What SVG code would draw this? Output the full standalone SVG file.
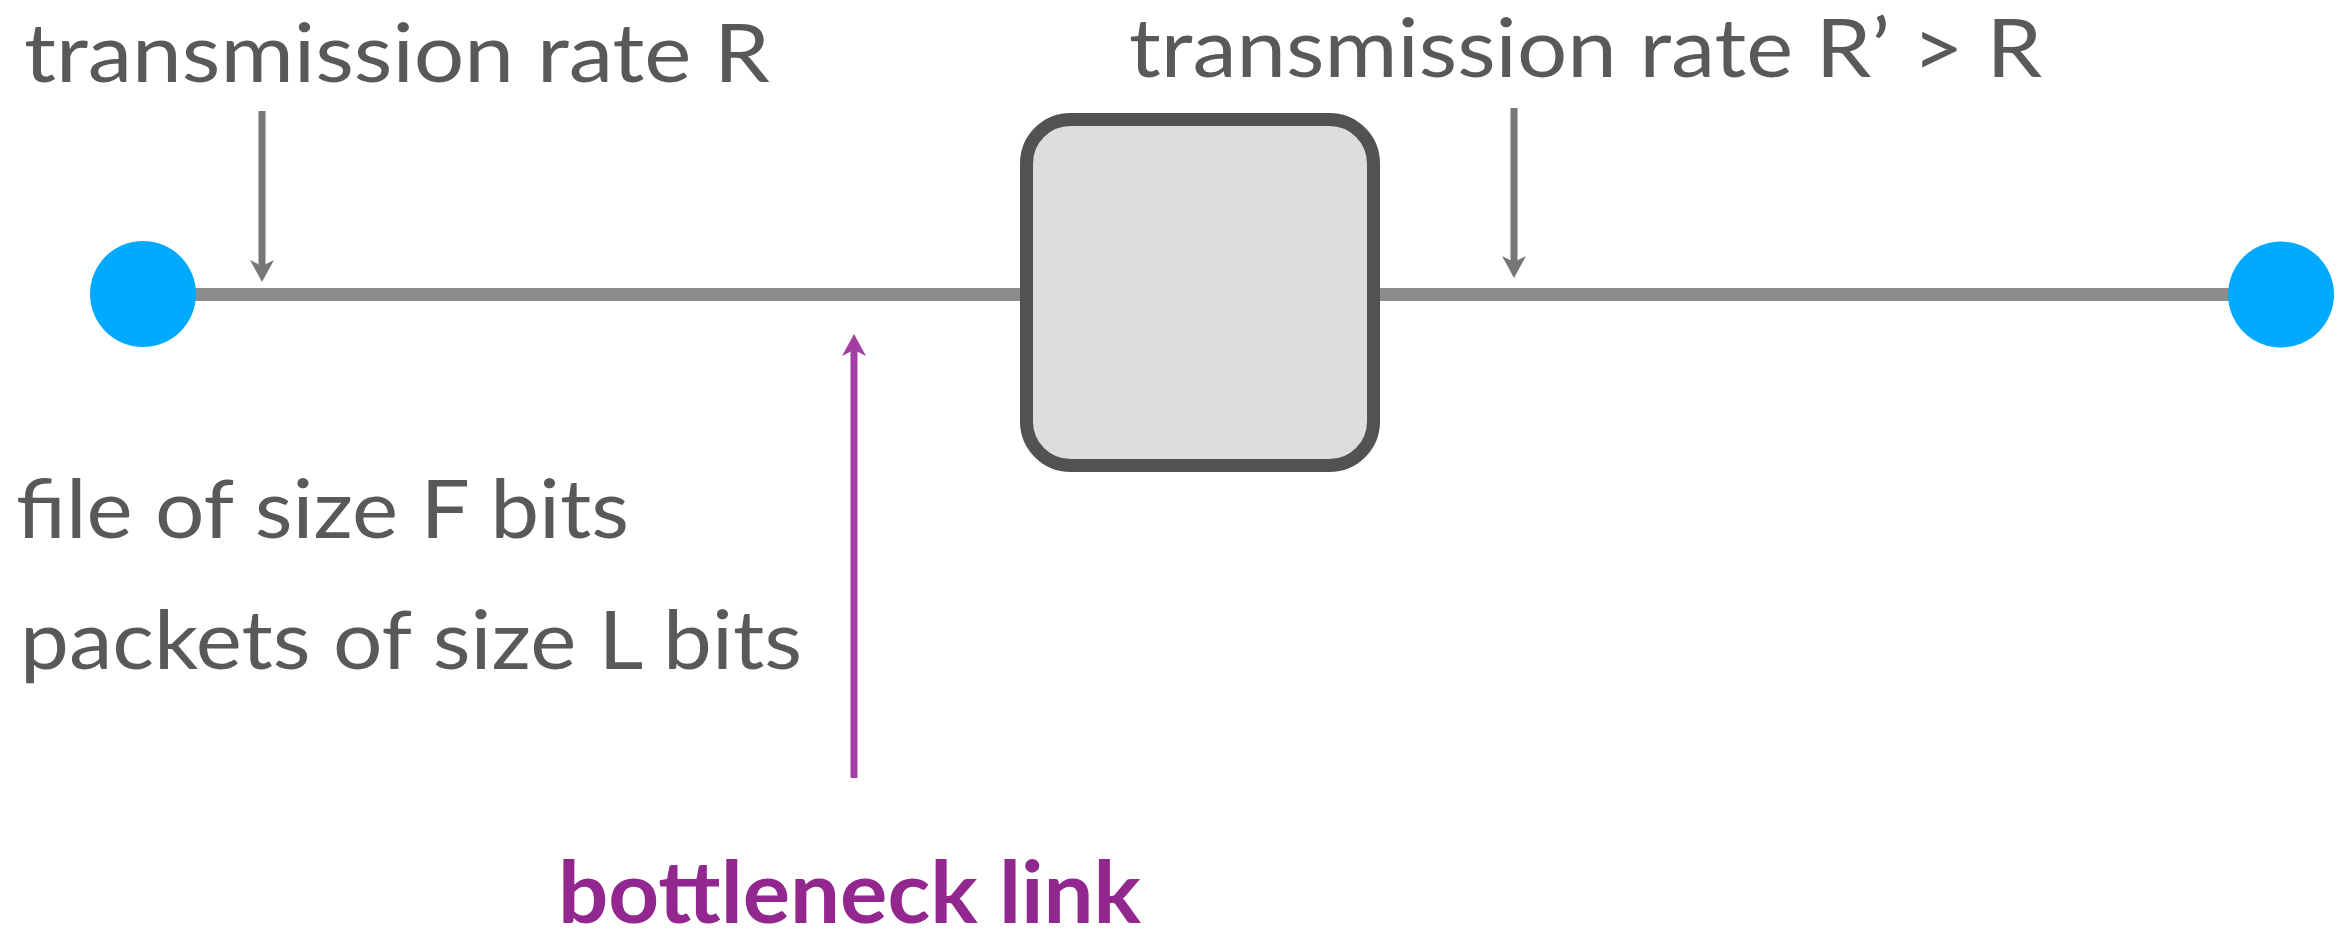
<svg xmlns="http://www.w3.org/2000/svg" width="2347" height="933" viewBox="0 0 2347 933">
  <style>
    .lbl { font-family: Lato, "Open Sans", "Liberation Sans", sans-serif; font-size: 82px; fill: #595959; }
    .hot { font-family: Lato, "Open Sans", "Liberation Sans", sans-serif; font-size: 86px; font-weight: bold; fill: #92278f; }
    .link { stroke: #8c8c8c; stroke-width: 13; fill: none; }
    .host { fill: #00aaff; }
    .router { fill: #dddddd; stroke: #525252; stroke-width: 13; }
    .pointer { stroke: #777777; stroke-width: 7; fill: none; }
    .pointer-hot { stroke: #a23fa3; stroke-width: 7; fill: none; }
  </style>
  <defs>
    <!-- notched arrowheads, tip at the marker origin, pointing along +x -->
    <marker id="headGray" viewBox="-24 -13 25 26" markerWidth="25" markerHeight="26" refX="0" refY="0" markerUnits="userSpaceOnUse" orient="auto">
      <path d="M0,0 L-22,-12 L-16,0 L-22,12 Z" fill="#777777"/>
    </marker>
    <marker id="headPurple" viewBox="-24 -13 25 26" markerWidth="25" markerHeight="26" refX="0" refY="0" markerUnits="userSpaceOnUse" orient="auto">
      <path d="M0,0 L-22,-12 L-16,0 L-22,12 Z" fill="#a23fa3"/>
    </marker>
  </defs>

  <!-- links and pointer arrows -->
  <g id="connectors">
    <line class="link" x1="143" y1="294.5" x2="1026" y2="294.5"/>
    <line class="link" x1="1374" y1="294.5" x2="2281" y2="294.5"/>
    <path class="pointer" d="M262,111 V266"/>
    <path d="M262,111 V282" stroke="none" fill="none" marker-end="url(#headGray)"/>
    <path class="pointer" d="M1514,108 V262"/>
    <path d="M1514,108 V278" stroke="none" fill="none" marker-end="url(#headGray)"/>
    <path class="pointer-hot" d="M854,778 V350"/>
    <path d="M854,778 V334" stroke="none" fill="none" marker-end="url(#headPurple)"/>
  </g>

  <g id="source">
    <circle class="host" cx="143" cy="294" r="53"/>
  </g>

  <g id="router">
    <rect class="router" x="1026.5" y="119.5" width="347" height="346" rx="44" ry="44"/>
  </g>

  <g id="destination">
    <circle class="host" cx="2281" cy="294.5" r="53"/>
  </g>

  <g id="labels">
    <text class="lbl" x="24" y="82" textLength="746" lengthAdjust="spacingAndGlyphs">transmission rate R</text>
    <text class="lbl" x="1129" y="77" textLength="913" lengthAdjust="spacingAndGlyphs">transmission rate R’ &gt; R</text>
    <text class="lbl" x="16" y="538" textLength="613" lengthAdjust="spacingAndGlyphs">file of size F bits</text>
    <text class="lbl" x="20" y="669" textLength="782" lengthAdjust="spacingAndGlyphs">packets of size L bits</text>
    <text class="hot" x="558" y="923" textLength="583" lengthAdjust="spacingAndGlyphs">bottleneck link</text>
  </g>
</svg>
